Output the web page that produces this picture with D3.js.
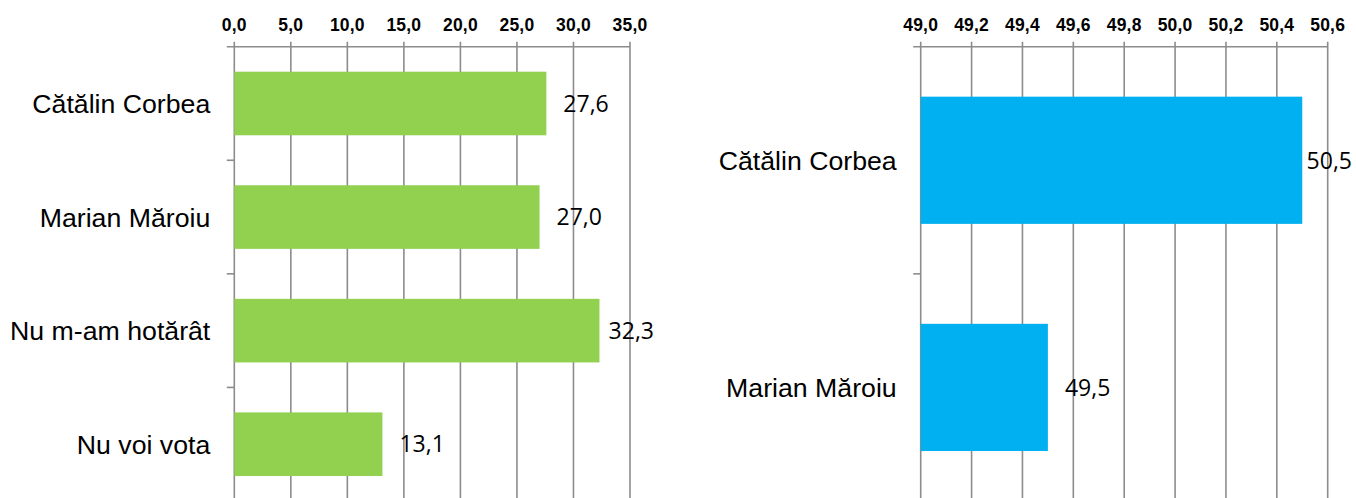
<!DOCTYPE html>
<html>
<head>
<meta charset="utf-8">
<script src="https://cdn.jsdelivr.net/npm/d3@7"></script>
<style>
  html, body { margin: 0; padding: 0; background: #fff; }
  svg { display: block; }
</style>
</head>
<body>
<svg id="chart" width="1356" height="498"></svg>
<script>
// ---- data ----
const leftCategories = ["Cătălin Corbea", "Marian Măroiu", "Nu m-am hotărât", "Nu voi vota"];
const leftValues = [27.6, 27.0, 32.3, 13.1];
const leftTicks = [0, 5, 10, 15, 20, 25, 30, 35];

const rightCategories = ["Cătălin Corbea", "Marian Măroiu"];
const rightValues = [50.5, 49.5];
const rightTicks = [49.0, 49.2, 49.4, 49.6, 49.8, 50.0, 50.2, 50.4, 50.6];

// ---- layout ----
const svg = d3.select("#chart");
const fmt = v => v.toFixed(1).replace(".", ",");
const gridColor = "#8c8c8c";

function panel(cfg) {
  const g = svg.append("g");
  const x = d3.scaleLinear().domain(cfg.domain).range([cfg.x0, cfg.x1]);
  const y = d3.scaleBand().domain(cfg.categories).range([cfg.top, cfg.bottom])
    .paddingInner(0.44).paddingOuter(0.22);

  // vertical gridlines
  g.selectAll("line.grid").data(cfg.ticks).enter().append("line")
    .attr("class", "grid")
    .attr("x1", d => x(d)).attr("x2", d => x(d))
    .attr("y1", cfg.top - 5).attr("y2", cfg.bottom)
    .attr("stroke", gridColor).attr("stroke-width", 1.6);

  // top axis line
  g.append("line")
    .attr("x1", cfg.x0 - 7.5).attr("x2", x(cfg.domain[1]))
    .attr("y1", cfg.top).attr("y2", cfg.top)
    .attr("stroke", gridColor).attr("stroke-width", 1.6);

  // category tick marks at band boundaries
  const bounds = cfg.categories.slice(1).map(c => y(c) - y.step() * 0.22);
  g.selectAll("line.ctick").data(bounds).enter().append("line")
    .attr("x1", cfg.x0 - 7.5).attr("x2", cfg.x0)
    .attr("y1", d => d).attr("y2", d => d)
    .attr("stroke", gridColor).attr("stroke-width", 1.6);

  // tick labels
  g.selectAll("text.tick").data(cfg.ticks).enter().append("text")
    .attr("x", d => x(d)).attr("y", 31)
    .attr("text-anchor", "middle")
    .attr("font-family", "Liberation Sans, Arial, sans-serif")
    .attr("font-weight", "bold").attr("font-size", 17.5)
    .attr("letter-spacing", 0.2)
    .attr("fill", "#000")
    .text(d => fmt(d));

  // bars
  g.selectAll("rect.bar").data(cfg.values).enter().append("rect")
    .attr("x", x(cfg.domain[0]))
    .attr("y", (d, i) => y(cfg.categories[i]))
    .attr("width", d => x(d) - x(cfg.domain[0]))
    .attr("height", y.bandwidth())
    .attr("fill", cfg.color);

  // category labels
  g.selectAll("text.cat").data(cfg.categories).enter().append("text")
    .attr("x", cfg.x0 - 24)
    .attr("y", d => y(d) + y.bandwidth() / 2)
    .attr("dy", "0.36em")
    .attr("text-anchor", "end")
    .attr("font-family", "Liberation Sans, Arial, sans-serif")
    .attr("font-size", 26.7)
    .attr("fill", "#000")
    .text(d => d);

  // value labels
  const vl = g.selectAll("text.val").data(cfg.values).enter().append("text")
    .attr("y", (d, i) => y(cfg.categories[i]) + y.bandwidth() / 2)
    .attr("dy", "0.36em")
    .attr("font-family", "Open Sans, sans-serif")
    .attr("font-size", 23)
    .attr("fill", "#000")
    .text(d => fmt(d));
  vl.each(function(d) {
    const w = this.getComputedTextLength();
    const xx = Math.min(x(d) + 17, cfg.labelLimit - w);
    d3.select(this).attr("x", xx);
  });
}

panel({
  categories: leftCategories, values: leftValues, ticks: leftTicks,
  domain: [0, 35], x0: 234.3, x1: 630, top: 46.7, bottom: 501,
  color: "#92D050", labelLimit: 654
});

panel({
  categories: rightCategories, values: rightValues, ticks: rightTicks,
  domain: [49.0, 50.6], x0: 920.7, x1: 1327.7, top: 46.7, bottom: 501,
  color: "#00B0F0", labelLimit: 1352
});
</script>
</body>
</html>
